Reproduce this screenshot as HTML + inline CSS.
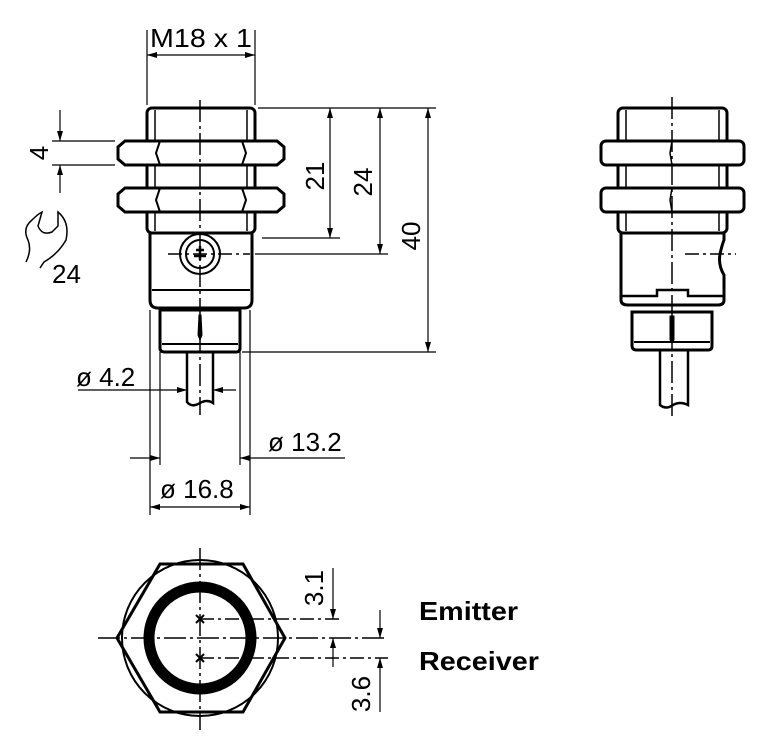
<!DOCTYPE html>
<html><head><meta charset="utf-8"><style>
html,body{margin:0;padding:0;background:#fff;}
svg{display:block;font-family:"Liberation Sans",sans-serif;}
</style></head><body>
<svg width="768" height="756" viewBox="0 0 768 756" xmlns="http://www.w3.org/2000/svg">
<defs>
<marker id="a" viewBox="0 0 10 10" refX="10" refY="5" markerWidth="10" markerHeight="10" orient="auto-start-reverse" markerUnits="userSpaceOnUse"><path d="M0,2 L10,5 L0,8 z" fill="#000"/></marker>
</defs>
<g fill="none" stroke="#000">
<!-- LEFT VIEW -->
<rect x="147" y="108" width="108" height="125" rx="5" stroke-width="3"/>
<line x1="155" y1="110" x2="155" y2="231" stroke-width="1.5"/>
<line x1="247" y1="110" x2="247" y2="231" stroke-width="1.5"/>
<g fill="#fff" stroke-width="3">
<path d="M125,141 H277 L284,147 V159 L277,165 H125 L118,159 V147 Z"/>
<path d="M125,188 H277 L284,194 V206 L277,212 H125 L118,206 V194 Z"/>
</g>
<path d="M160,141 L156,153 L160,165 M242,141 L246,153 L242,165 M160,188 L156,200 L160,212 M242,188 L246,200 L242,212" stroke-width="2"/>
<path d="M150,233 V300 Q150,308 158,308 H244 Q252,308 252,300 V233" stroke-width="3"/>
<line x1="150" y1="233" x2="252" y2="233" stroke-width="3"/>
<line x1="152" y1="290" x2="250" y2="290" stroke-width="2"/>
<path d="M160,310 V348 Q160,352 165,352 H236 Q240,352 240,348 V310 Z" stroke-width="3"/>
<line x1="162" y1="344" x2="238" y2="344" stroke-width="2"/>
<path d="M199,315 L201,315 L202,335 L200,340 L198,335 Z" fill="#000" stroke-width="1"/>
<path d="M187,352 V402 Q192,408 200,403 Q207,399 213,403 V352" stroke-width="2.5"/>
<circle cx="200" cy="254" r="20" stroke-width="2"/>
<circle cx="200" cy="254" r="14" stroke-width="2"/>
<path d="M196,250 h8 M200,246 v14 M194,256 h12" stroke-width="2.5"/>
<line x1="200" y1="100" x2="200" y2="415" stroke-width="1.5" stroke-dasharray="22,4,3,4"/>
<line x1="168" y1="254" x2="250" y2="254" stroke-width="1.5" stroke-dasharray="14,4,3,4"/>
<!-- dims left view -->
<line x1="147" y1="30" x2="147" y2="105" stroke-width="1.2"/>
<line x1="255" y1="30" x2="255" y2="105" stroke-width="1.2"/>
<line x1="147" y1="55" x2="255" y2="55" stroke-width="1.2" marker-start="url(#a)" marker-end="url(#a)"/>
<line x1="258" y1="108" x2="436" y2="108" stroke-width="1.2"/>
<line x1="262" y1="238" x2="340" y2="238" stroke-width="1.2"/>
<line x1="255" y1="254" x2="388" y2="254" stroke-width="1.2"/>
<line x1="242" y1="352" x2="436" y2="352" stroke-width="1.2"/>
<line x1="330" y1="108" x2="330" y2="238" stroke-width="1.2" marker-start="url(#a)" marker-end="url(#a)"/>
<line x1="380" y1="108" x2="380" y2="254" stroke-width="1.2" marker-start="url(#a)" marker-end="url(#a)"/>
<line x1="428" y1="108" x2="428" y2="352" stroke-width="1.2" marker-start="url(#a)" marker-end="url(#a)"/>
<!-- 4 -->
<line x1="52" y1="141" x2="115" y2="141" stroke-width="1.2"/>
<line x1="52" y1="165" x2="115" y2="165" stroke-width="1.2"/>
<line x1="60" y1="110" x2="60" y2="141" stroke-width="1.2" marker-end="url(#a)"/>
<line x1="60" y1="193" x2="60" y2="165" stroke-width="1.2" marker-end="url(#a)"/>
<!-- wrench -->
<path d="M26,262 Q32,250 28,240 Q22,228 32,220 Q38,214 42,212 L38,226 Q42,236 52,232 L58,226 L58,212 Q70,222 66,240 Q58,254 44,262 L40,268" stroke-width="1.5"/>
<!-- diameters -->
<line x1="150" y1="310" x2="150" y2="515" stroke-width="1.2"/>
<line x1="250" y1="310" x2="250" y2="515" stroke-width="1.2"/>
<line x1="160" y1="352" x2="160" y2="465" stroke-width="1.2"/>
<line x1="240" y1="352" x2="240" y2="465" stroke-width="1.2"/>
<line x1="78" y1="390" x2="187" y2="390" stroke-width="1.2" marker-end="url(#a)"/>
<line x1="236" y1="390" x2="213" y2="390" stroke-width="1.2" marker-end="url(#a)"/>
<line x1="130" y1="458" x2="160" y2="458" stroke-width="1.2" marker-end="url(#a)"/>
<line x1="345" y1="458" x2="240" y2="458" stroke-width="1.2" marker-end="url(#a)"/>
<line x1="150" y1="507" x2="250" y2="507" stroke-width="1.2" marker-start="url(#a)" marker-end="url(#a)"/>
<!-- RIGHT VIEW -->
<rect x="618" y="108" width="109" height="125" rx="5" stroke-width="3"/>
<line x1="626" y1="110" x2="626" y2="231" stroke-width="1.5"/>
<line x1="719" y1="110" x2="719" y2="231" stroke-width="1.5"/>
<g fill="#fff" stroke-width="3">
<rect x="601" y="141" width="143" height="24" rx="5"/>
<rect x="601" y="188" width="143" height="24" rx="5"/>
</g>
<path d="M672,141 L670,153 L672,165 M672,188 L670,200 L672,212" stroke-width="1.5"/>
<path d="M621,233 V300 Q621,305 628,305 H718 Q724,305 724,300 V275 Q718,265 720,254 Q722,245 724,240 V233" stroke-width="3"/>
<line x1="621" y1="233" x2="724" y2="233" stroke-width="3"/>
<path d="M622,296 H657 V290 H688 V296 H723" stroke-width="2.5"/>
<path d="M632,312 V346 Q632,350 637,350 H708 Q712,350 712,346 V312 Z" stroke-width="3"/>
<line x1="634" y1="342" x2="710" y2="342" stroke-width="2"/>
<path d="M670,316 L674,316 L674,340 L672,343 L670,340 Z" fill="#000" stroke-width="1"/>
<path d="M660,350 V405 Q666,410 673,405 Q680,401 688,405 V350" stroke-width="2.5"/>
<line x1="672" y1="97" x2="672" y2="420" stroke-width="1.5" stroke-dasharray="22,4,3,4"/>
<line x1="685" y1="254" x2="736" y2="254" stroke-width="1.5" stroke-dasharray="14,4,3,4"/>
<!-- BOTTOM VIEW -->
<path d="M160,564 H243 L285,638 L243,712 H160 L117,638 Z" stroke-width="3"/>
<circle cx="200" cy="638" r="78" stroke-width="2"/>
<circle cx="200" cy="638" r="51" stroke-width="11"/>
<line x1="200" y1="548" x2="200" y2="730" stroke-width="1.5" stroke-dasharray="22,4,3,4"/>
<line x1="98" y1="638" x2="388" y2="638" stroke-width="1.5" stroke-dasharray="22,4,3,4"/>
<line x1="200" y1="619" x2="340" y2="619" stroke-width="1.5" stroke-dasharray="14,4,3,4"/>
<line x1="200" y1="658" x2="388" y2="658" stroke-width="1.5" stroke-dasharray="14,4,3,4"/>
<path d="M196,615 l8,8 M204,615 l-8,8 M196,654 l8,8 M204,654 l-8,8" stroke-width="2"/>
<line x1="333" y1="568" x2="333" y2="619" stroke-width="1.2" marker-end="url(#a)"/>
<line x1="333" y1="667" x2="333" y2="638" stroke-width="1.2" marker-end="url(#a)"/>
<line x1="380" y1="610" x2="380" y2="638" stroke-width="1.2" marker-end="url(#a)"/>
<line x1="380" y1="712" x2="380" y2="658" stroke-width="1.2" marker-end="url(#a)"/>
</g>
<g fill="#000" font-size="26">
<text x="201" y="47" text-anchor="middle" textLength="102" lengthAdjust="spacingAndGlyphs">M18 x 1</text>
<text transform="translate(324,176) rotate(-90)" text-anchor="middle">21</text>
<text transform="translate(372,182) rotate(-90)" text-anchor="middle">24</text>
<text transform="translate(420,236) rotate(-90)" text-anchor="middle">40</text>
<text transform="translate(48,153) rotate(-90)" text-anchor="middle">4</text>
<text x="52" y="283">24</text>
<text x="76" y="386">ø 4.2</text>
<text x="268" y="451">ø 13.2</text>
<text x="160" y="498">ø 16.8</text>
<text transform="translate(323,588) rotate(-90)" text-anchor="middle">3.1</text>
<text transform="translate(370,694) rotate(-90)" text-anchor="middle">3.6</text>
<text x="419" y="620" font-weight="bold" textLength="99" lengthAdjust="spacingAndGlyphs">Emitter</text>
<text x="419" y="670" font-weight="bold" textLength="120" lengthAdjust="spacingAndGlyphs">Receiver</text>
</g>
</svg>
</body></html>
